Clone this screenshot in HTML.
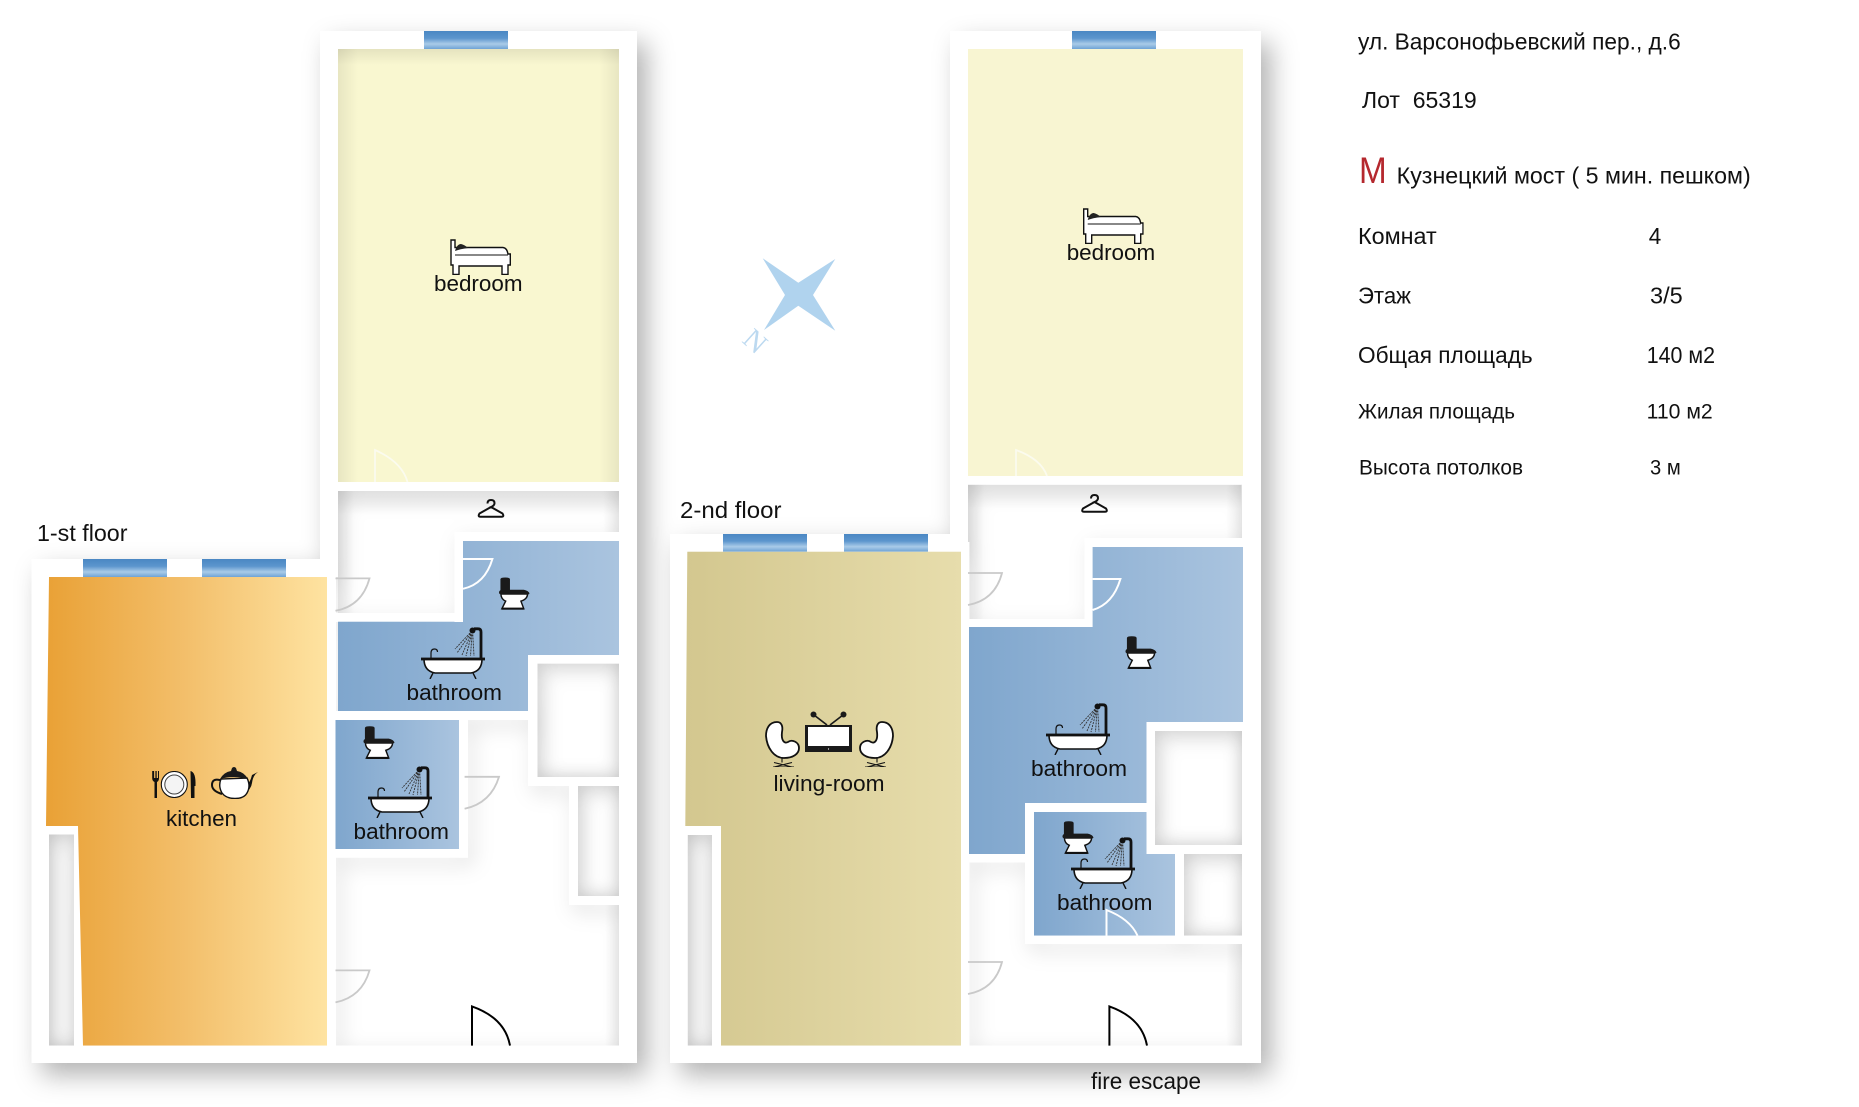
<!DOCTYPE html>
<html><head><meta charset="utf-8"><style>
html,body{margin:0;padding:0;background:#fff}
svg{display:block}
.a{font-family:"Liberation Sans",sans-serif;font-size:22.5px;fill:#111}
.m{font-family:"Liberation Sans",sans-serif;font-size:23px;fill:#111}
.s{font-family:"Liberation Sans",sans-serif;font-size:21px;fill:#111}
</style></head><body>
<svg xmlns="http://www.w3.org/2000/svg" width="1859" height="1107" viewBox="0 0 1859 1107">
<defs>
<filter id="sh" filterUnits="userSpaceOnUse" x="0" y="0" width="1859" height="1107">
<feDropShadow dx="10" dy="12" stdDeviation="13" flood-color="#000" flood-opacity="0.3"/>
</filter>
<filter id="sh2" filterUnits="userSpaceOnUse" x="0" y="0" width="1859" height="1107">
<feDropShadow dx="5" dy="7" stdDeviation="10" flood-color="#000" flood-opacity="0.13"/>
</filter>
<filter id="ins" x="-10%" y="-10%" width="120%" height="120%">
<feGaussianBlur in="SourceAlpha" stdDeviation="9" result="b"/>
<feComposite in="SourceAlpha" in2="b" operator="out" result="o"/>
<feFlood flood-color="#000" flood-opacity=".18"/>
<feComposite in2="o" operator="in"/>
</filter>
<linearGradient id="win" x1="0" y1="0" x2="0" y2="1"><stop offset="0" stop-color="#4a87c3"/><stop offset=".4" stop-color="#5c95cd"/><stop offset=".72" stop-color="#a9cbe8"/><stop offset="1" stop-color="#6fa3d5"/></linearGradient>
<linearGradient id="kit" x1="0" y1="0" x2="1" y2="0"><stop offset="0" stop-color="#e9a136"/><stop offset=".5" stop-color="#f3bf6b"/><stop offset="1" stop-color="#fee3a1"/></linearGradient>
<linearGradient id="liv" x1="0" y1="0" x2="1" y2="0"><stop offset="0" stop-color="#d3c78f"/><stop offset="1" stop-color="#e7ddac"/></linearGradient>
<linearGradient id="ba" x1="0" y1="0" x2="1" y2="0"><stop offset="0" stop-color="#7fa6cd"/><stop offset="1" stop-color="#aac4df"/></linearGradient>
<linearGradient id="sl" x1="0" y1="0" x2="1" y2="0"><stop offset="0" stop-color="#000" stop-opacity=".07"/><stop offset="1" stop-color="#000" stop-opacity="0"/></linearGradient>
<linearGradient id="sr" x1="1" y1="0" x2="0" y2="0"><stop offset="0" stop-color="#000" stop-opacity=".07"/><stop offset="1" stop-color="#000" stop-opacity="0"/></linearGradient>
<linearGradient id="st" x1="0" y1="0" x2="0" y2="1"><stop offset="0" stop-color="#000" stop-opacity=".08"/><stop offset="1" stop-color="#000" stop-opacity="0"/></linearGradient>

<clipPath id="sil"><polygon points="320,31 637,31 637,1063 31.600,1063 31.600,559 320,559"/><polygon points="950,31 1261,31 1261,1063 670,1063 670,534 950,534"/></clipPath>

<g id="walls" fill="#fff">
<rect x="320" y="31" width="317" height="18"/>
<rect x="320" y="31" width="18" height="546"/>
<rect x="619" y="31" width="18" height="1032"/>
<rect x="338" y="482" width="281" height="9"/>
<rect x="31.600" y="559" width="306" height="18"/>
<rect x="31.600" y="559" width="17.400" height="504"/>
<rect x="31.600" y="1045.600" width="605.400" height="17.400"/>
<rect x="40" y="826" width="38" height="8.500"/>
<polygon points="74,826 78,826 83,1046 74,1046"/>
<rect x="327" y="577" width="9" height="469"/>
<rect x="454.500" y="532" width="164.500" height="9"/>
<rect x="454.500" y="532" width="8.500" height="90"/>
<rect x="336" y="613" width="127" height="9"/>
<rect x="336" y="711" width="201" height="9"/>
<rect x="528" y="655" width="9.500" height="131"/>
<rect x="528" y="655" width="91" height="8.600"/>
<rect x="528" y="777" width="91" height="9"/>
<rect x="569" y="786" width="9" height="119"/>
<rect x="569" y="896" width="50" height="9"/>
<rect x="459" y="720" width="9" height="137.600"/>
<rect x="336" y="849" width="132" height="8.600"/>
<rect x="950" y="31" width="311" height="18"/>
<rect x="950" y="31" width="18" height="520"/>
<rect x="1242" y="31" width="19" height="1032"/>
<rect x="964" y="476" width="282" height="8.500"/>
<rect x="670" y="534" width="298" height="18"/>
<rect x="670" y="534" width="17.500" height="529"/>
<rect x="670" y="1045.600" width="591" height="17.400"/>
<rect x="679" y="826" width="42" height="9"/>
<rect x="712" y="826" width="9" height="220"/>
<rect x="961" y="542" width="8.400" height="508"/>
<rect x="1084.500" y="538" width="164.500" height="9"/>
<rect x="1084.500" y="538" width="8.100" height="89"/>
<rect x="969" y="619" width="123" height="8"/>
<rect x="1148.600" y="722" width="100.400" height="9"/>
<rect x="1146.500" y="722" width="8.500" height="132"/>
<rect x="1146.500" y="845" width="102.500" height="9"/>
<rect x="1025" y="803" width="130" height="9"/>
<rect x="1025" y="803" width="9" height="141"/>
<rect x="969" y="854" width="56" height="8.400"/>
<rect x="1025" y="935.600" width="220" height="8.400"/>
<rect x="1175" y="854" width="9" height="90"/>
</g>

<symbol id="toilet" viewBox="0 0 32 34">
<path d="M2 17H30Q30 23 23 25L26 33H3L7 25Q2 23 2 17Z" fill="#fff" stroke="#111" stroke-width="1.500"/>
<path d="M0 16Q0 13 4 13H26Q31 14 32 17Q31 18.500 28 18.300H3Q0 18 0 16Z" fill="#1a1a1a"/>
<path d="M1.500 2Q1.500 .2 6.500 .2Q11.500 .2 11.500 2V15H1.500Z" fill="#1a1a1a"/>
<rect x="3" y="31.800" width="23" height="2.200" fill="#111"/>
</symbol>

<symbol id="bath" viewBox="0 0 64 52">
<path d="M3 32Q3 44 14 46H50Q61 44 61 32Z" fill="#fff" stroke="#111" stroke-width="1.600"/>
<path d="M12 46L9 52M52 46L55 52" stroke="#111" stroke-width="1.400" fill="none"/>
<rect x="0" y="30.600" width="64" height="2.800" fill="#111"/>
<path d="M10 31V26Q10 22 13.500 22Q16.500 22 16.500 25" stroke="#111" stroke-width="1.200" fill="none"/>
<path d="M60 31V5Q60 1.800 57 1.800H53" stroke="#111" stroke-width="2.800" fill="none"/>
<circle cx="51.500" cy="3.500" r="3" fill="#111"/>
<path d="M49 6L34 22M49.500 6.500L36 26M50 7L41 28M50.500 7.500L45 29M51 7.500L49.500 29M51.800 7.500L53 29" stroke="#333" stroke-width=".9" stroke-dasharray="2 1" fill="none"/>
</symbol>

<symbol id="bed" viewBox="0 0 61 36">
<path d="M1 1H5V8.500H53Q57 9 58 15H60.300V26H58V35.500H52V27H9V35.500H3V26H1Z" fill="#fff" stroke="#111" stroke-width="1.400"/>
<path d="M5 16H58" stroke="#111" stroke-width="1"/>
<path d="M5 12Q7 5 11 5Q15 6 18 9Q10 10 5 12Z" fill="#222"/>
</symbol>

<symbol id="cut" viewBox="0 0 45 27">
<path d="M.7 0V7Q.7 10 3 11V27H5.500V11Q7.500 10 7.500 7V0H6.500V7H5.200V0H3.900V7H2.600V0Z" fill="#111"/>
<circle cx="22.800" cy="13.500" r="13" fill="#fff" stroke="#111" stroke-width="1.100"/>
<circle cx="22.800" cy="13.500" r="9.500" fill="#f4f4f4" stroke="#444" stroke-width="1"/>
<path d="M39 0Q44.500 1 44 15H43V27H39.500Z" fill="#111"/>
</symbol>

<symbol id="teapot" viewBox="0 0 47 33">
<path d="M12 15Q1 11 1 19Q1 25 11 28" fill="none" stroke="#111" stroke-width="2"/>
<path d="M36 18Q39 17 41 9L47 6Q42 9 41 17Q40 24 34 26Z" fill="#111"/>
<path d="M10 13Q7 20 11 27Q15 32.500 24 32.500Q33 32.500 36 27Q40 20 36 12Z" fill="#fff" stroke="#111" stroke-width="1.400"/>
<path d="M9 13Q13 6 20 5L21 2Q23 0 25 2L26 5Q33 6 37 13Q23 9 9 13Z" fill="#1a1a1a"/>
</symbol>

<symbol id="tv" viewBox="0 0 47 41">
<rect x="0" y="14" width="47" height="27" fill="#1a1a1a"/>
<rect x="3" y="16" width="41" height="19" fill="#fff"/>
<circle cx="23.500" cy="38" r=".6" fill="#fff"/>
<path d="M22 14L9 4M25 14L38 4" stroke="#1a1a1a" stroke-width="1.700"/>
<circle cx="8.500" cy="3.500" r="3" fill="#1a1a1a"/><circle cx="38.500" cy="3.500" r="3" fill="#1a1a1a"/>
</symbol>

<symbol id="chair" viewBox="0 0 35 46">
<path d="M12 1C4 1 1 8 1 15C2 27 9 37 19 37C28 37 34 33 34 27C34 21 27 18 23 21C19 23 16 19 17 11C18 6 17 1 12 1Z" fill="#fff" stroke="#111" stroke-width="1.800"/>
<path d="M17 37V41.500M8 46H29M9 41.500L27 46M9 46L27 41.500" stroke="#111" stroke-width="1.100" fill="none"/>
</symbol>

<symbol id="hanger" viewBox="0 0 28 19">
<path d="M10.500 4.500Q10.500 1 14 1Q17.500 1 17.500 4.200Q17.500 6.500 14 8L25.500 14.500Q27.500 17.700 24.500 17.700H3.500Q.5 17.700 2.500 14.500L14 8" fill="none" stroke="#111" stroke-width="2"/>
</symbol>
</defs>

<!-- outer silhouettes with shadow -->
<g filter="url(#sh)" fill="#fff"><polygon points="320,31 637,31 637,1063 31.600,1063 31.600,559 320,559"/><polygon points="950,31 1261,31 1261,1063 670,1063 670,534 950,534"/></g>

<!-- interior shading -->
<rect x="338" y="491" width="281" height="24" fill="url(#st)"/>
<rect x="338" y="491" width="16" height="130" fill="url(#sl)"/>
<rect x="603" y="491" width="16" height="41" fill="url(#sr)"/>
<rect x="605" y="905" width="14" height="141" fill="url(#sr)"/>
<rect x="968" y="485" width="273" height="24" fill="url(#st)"/>
<rect x="968" y="485" width="16" height="134" fill="url(#sl)"/>
<rect x="1226" y="485" width="16" height="53" fill="url(#sr)"/>
<rect x="1226" y="944" width="16" height="102" fill="url(#sr)"/>
<rect x="578" y="786" width="41" height="110" filter="url(#ins)"/>
<rect x="49" y="834" width="25" height="212" filter="url(#ins)"/>
<rect x="1155" y="731" width="87" height="114" filter="url(#ins)"/>
<rect x="1184" y="854" width="58" height="82" filter="url(#ins)"/>
<rect x="688" y="835" width="24" height="211" filter="url(#ins)"/>

<!-- soft shadows of walls, kept inside the plan -->
<g clip-path="url(#sil)"><use href="#walls" filter="url(#sh2)"/></g>

<!-- rooms -->
<rect x="338" y="49" width="281" height="433" fill="#f9f7d0"/>
<rect x="338" y="49" width="20" height="433" fill="url(#sl)"/>
<rect x="599" y="49" width="20" height="433" fill="url(#sr)"/>
<rect x="338" y="49" width="281" height="16" fill="url(#st)"/>
<rect x="968" y="49" width="275" height="427" fill="#f8f5d2"/>

<polygon points="49,577 327,577 327,1045.600 83,1045.600 78,826 46,826" fill="url(#kit)"/>
<polygon points="687.300,551.600 961,551.600 961,1045.600 721,1045.600 721,826 685.300,826" fill="url(#liv)"/>

<polygon points="463,541 619,541 619,655 528,655 528,711 338,711 338,621.600 463,621.600" fill="url(#ba)"/>
<rect x="335.500" y="720" width="123.500" height="129" fill="url(#ba)"/>
<polygon points="1092.600,547 1243,547 1244.500,722 1148.600,722 1148.600,803 1025,803 1025,854 969,854 969,627 1092.600,627" fill="url(#ba)"/>
<polygon points="1034,812 1146.500,812 1146.500,853.600 1175,853.600 1175,935.600 1034,935.600" fill="url(#ba)"/>

<!-- walls on top -->
<use href="#walls" clip-path="url(#wclip)"/>
<clipPath id="wclip">
<rect x="320" y="31" width="18" height="528"/><rect x="320" y="31" width="317" height="18"/><rect x="619" y="31" width="18" height="1032"/><rect x="338" y="482" width="281" height="9"/>
<rect x="31.600" y="559" width="306" height="18"/><rect x="31.600" y="559" width="14" height="504"/><rect x="31.600" y="1045.600" width="605.400" height="17.400"/><rect x="40" y="826.500" width="38" height="8"/><rect x="74" y="834" width="4" height="212"/>
<rect x="327" y="577" width="8.500" height="469"/><rect x="454.500" y="532" width="164.500" height="9"/><rect x="454.500" y="532" width="8.500" height="90"/><rect x="338" y="613" width="125" height="8.600"/><rect x="335.500" y="711" width="202" height="9"/><rect x="528" y="655" width="91" height="131"/>
<rect x="569" y="786" width="9" height="119"/><rect x="569" y="896" width="50" height="9"/><rect x="459" y="720" width="9" height="137.600"/><rect x="335.500" y="849" width="132.500" height="8.600"/>
<rect x="950" y="31" width="311" height="18"/><rect x="950" y="31" width="18" height="520"/><rect x="1243" y="31" width="18" height="1032"/><rect x="964" y="476" width="282" height="8.500"/>
<rect x="670" y="534" width="298" height="17.600"/><rect x="670" y="534" width="15" height="529"/><rect x="670" y="1045.600" width="591" height="17.400"/><rect x="679" y="826.500" width="42" height="8.500"/><rect x="712" y="835" width="9" height="211"/><rect x="961" y="542" width="8" height="508"/>
<rect x="1084.500" y="538" width="164.500" height="9"/><rect x="1084.500" y="538" width="8.100" height="89"/><rect x="969" y="619" width="123" height="8"/><rect x="1148.600" y="722" width="100.400" height="9"/><rect x="1146.500" y="722" width="8.500" height="132"/><rect x="1146.500" y="845" width="102.500" height="9"/><rect x="1025" y="803" width="130" height="9"/><rect x="1025" y="803" width="9" height="141"/><rect x="969" y="854" width="56" height="8.400"/><rect x="1025" y="935.600" width="220" height="8.400"/><rect x="1175" y="854" width="9" height="90"/>
</clipPath>
<!-- closet shading above the wall layer -->
<rect x="537.500" y="663.600" width="81.500" height="113.400" filter="url(#ins)"/>

<!-- windows -->
<rect x="424" y="31" width="84" height="18" fill="url(#win)"/>
<rect x="83" y="559" width="84" height="18" fill="url(#win)"/>
<rect x="202" y="559" width="84" height="18" fill="url(#win)"/>
<rect x="1072" y="31" width="84" height="18" fill="url(#win)"/>
<rect x="723" y="534" width="84" height="17.600" fill="url(#win)"/>
<rect x="844" y="534" width="84" height="17.600" fill="url(#win)"/>

<!-- doors -->
<g fill="none" stroke="#c9c9c9" stroke-width="1.800">
<path d="M335.500 578.400H369.500Q362 606 335.500 610.800"/>
<path d="M464.600 776.800H499Q491 803 464.600 808.800"/>
<path d="M335.500 970.400H369.500Q362 997 335.500 1002.400"/>
<path d="M968 573H1002Q995 600 968 605"/>
<path d="M968 962H1002Q995 989 968 994"/>
</g>
<g fill="none" stroke="#fff" stroke-width="2">
<path d="M463 559H492.400Q485 584 463 588.800"/>
<path d="M1092.600 579H1120.400Q1113 604 1092.600 610"/>
<path d="M1106.500 935.600V910Q1130 919 1137.500 935.600"/>
</g>
<g fill="none" stroke="#fbfbee" stroke-width="1.800">
<path d="M375 482V450Q402 462 407.500 482"/>
<path d="M1016 476V450Q1041 459 1047 476"/>
</g>
<g fill="none" stroke="#000" stroke-width="2">
<path d="M472 1045.600V1006.400Q505 1018 510 1045.600"/>
<path d="M1109.400 1045.600V1006.400Q1142 1018 1147 1045.600"/>
</g>

<!-- icons -->
<use href="#bed" x="450" y="239" width="61" height="36"/>
<use href="#bed" x="1082.700" y="208" width="61" height="36"/>
<use href="#hanger" x="477" y="499" width="28" height="19"/>
<use href="#hanger" x="1080" y="494" width="29" height="19"/>
<use href="#toilet" x="499" y="577" width="30.500" height="33" preserveAspectRatio="none"/>
<use href="#bath" x="421" y="627" width="64" height="52"/>
<use href="#toilet" x="363" y="726" width="32" height="33" preserveAspectRatio="none"/>
<use href="#bath" x="368" y="766" width="64" height="52"/>
<use href="#cut" x="151.500" y="771" width="45" height="27"/>
<use href="#teapot" x="211" y="766" width="47" height="33"/>
<use href="#toilet" x="1125" y="636" width="32" height="33" preserveAspectRatio="none"/>
<use href="#bath" x="1046" y="703" width="64" height="52"/>
<use href="#toilet" x="1062" y="821" width="32" height="33" preserveAspectRatio="none"/>
<use href="#bath" x="1071" y="837" width="64" height="52"/>
<use href="#chair" x="765" y="721" width="35" height="46"/>
<use href="#tv" x="805" y="711" width="47" height="41"/>
<g transform="translate(894,721) scale(-1,1)"><use href="#chair" x="0" y="0" width="35" height="46"/></g>

<!-- compass -->
<polygon points="762.700,258.300 798.300,282.700 835.300,259 813,295 835.300,330.700 798.300,305.700 764,330 785,295" fill="#b0d3ee"/>
<text transform="translate(755.500,341) rotate(42)" text-anchor="middle" y="10" font-family="Liberation Serif,serif" font-size="29" fill="#bcd9f0">N</text>

<!-- labels -->
<text class="a" x="434" y="291" textLength="88.500" lengthAdjust="spacingAndGlyphs">bedroom</text>
<text class="a" x="1066.700" y="260" textLength="88.500" lengthAdjust="spacingAndGlyphs">bedroom</text>
<text class="a" x="406.500" y="700" textLength="95.500" lengthAdjust="spacingAndGlyphs">bathroom</text>
<text class="a" x="353.500" y="839" textLength="95.500" lengthAdjust="spacingAndGlyphs">bathroom</text>
<text class="a" x="166" y="826" textLength="71" lengthAdjust="spacingAndGlyphs">kitchen</text>
<text class="a" x="1031" y="776" textLength="96" lengthAdjust="spacingAndGlyphs">bathroom</text>
<text class="a" x="1057" y="910" textLength="95.500" lengthAdjust="spacingAndGlyphs">bathroom</text>
<text class="a" x="773.500" y="791" textLength="111" lengthAdjust="spacingAndGlyphs">living-room</text>
<text class="m" x="37" y="541" textLength="90.500" lengthAdjust="spacingAndGlyphs">1-st floor</text>
<text class="m" x="680" y="518" textLength="101.500" lengthAdjust="spacingAndGlyphs">2-nd floor</text>
<text class="m" x="1091" y="1089" textLength="110" lengthAdjust="spacingAndGlyphs">fire escape</text>

<text class="m" x="1358" y="49.300" textLength="322.700" lengthAdjust="spacingAndGlyphs">ул. Варсонофьевский пер., д.6</text>
<text class="m" x="1362" y="108" textLength="114.700" lengthAdjust="spacingAndGlyphs" xml:space="preserve">Лот  65319</text>
<text x="1359" y="183" font-family="Liberation Sans,sans-serif" font-size="37" fill="#b5282e" textLength="27.700" lengthAdjust="spacingAndGlyphs">М</text>
<text class="m" x="1396.700" y="183.700" textLength="354" lengthAdjust="spacingAndGlyphs">Кузнецкий мост ( 5 мин. пешком)</text>
<text class="m" x="1358" y="244" textLength="78.700" lengthAdjust="spacingAndGlyphs">Комнат</text>
<text class="m" x="1648.700" y="244" textLength="12.500" lengthAdjust="spacingAndGlyphs">4</text>
<text class="m" x="1358" y="303.300" textLength="53" lengthAdjust="spacingAndGlyphs">Этаж</text>
<text class="m" x="1650" y="303.300" textLength="32.700" lengthAdjust="spacingAndGlyphs">3/5</text>
<text class="m" x="1358" y="363" textLength="174.700" lengthAdjust="spacingAndGlyphs">Общая площадь</text>
<text class="m" x="1646.700" y="363" textLength="68.300" lengthAdjust="spacingAndGlyphs">140 м2</text>
<text class="s" x="1358" y="418.700" textLength="157" lengthAdjust="spacingAndGlyphs">Жилая площадь</text>
<text class="s" x="1646.700" y="418.700" textLength="66" lengthAdjust="spacingAndGlyphs">110 м2</text>
<text class="s" x="1359" y="474.300" textLength="164" lengthAdjust="spacingAndGlyphs">Высота потолков</text>
<text class="s" x="1650" y="474.300" textLength="30.700" lengthAdjust="spacingAndGlyphs">3 м</text>
</svg>
</body></html>
